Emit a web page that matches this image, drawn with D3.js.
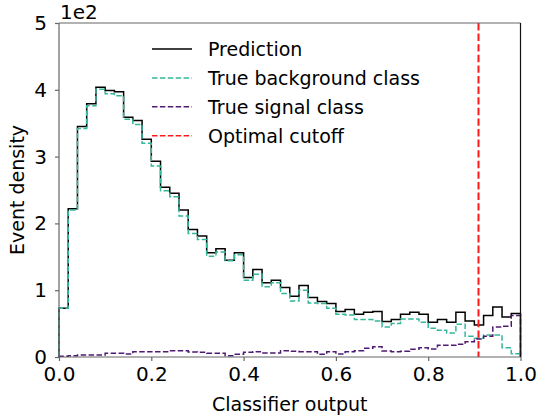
<!DOCTYPE html>
<html>
<head>
<meta charset="utf-8">
<script src="https://cdn.jsdelivr.net/npm/d3@7"></script>
<style>
  html, body { margin: 0; padding: 0; background: #fff; }
  svg { display: block; font-family: "DejaVu Sans", sans-serif; }
</style>
</head>
<body>
<svg id="chart" width="541" height="420"></svg>
<script>
// ---- data (bin counts, 50 bins of width 0.02 on [0, 1]) ----
const binStart = 0;
const binEnd = 1;
const prediction = [73, 222, 345, 379, 404, 399, 397, 359, 354, 326,
                    293, 254, 245, 220, 191, 181, 156, 162, 145, 156,
                    119, 131, 111, 115, 104, 91, 107, 89, 83, 80,
                    68, 71, 64, 67, 68, 53, 56, 64, 67, 64,
                    52, 56, 52, 67, 54, 48, 62, 75, 60, 65];
const background = [73, 220, 342, 376, 401, 394, 391, 356, 348, 320,
                    286, 249, 240, 211, 185, 176, 151, 157, 144, 153,
                    115, 124, 105, 111, 95, 84, 100, 81, 80, 73,
                    64, 63, 56, 56, 54, 45, 50, 57, 57, 52,
                    43, 40, 36, 49, 31, 28, 33, 33, 14, 5];
const signal = [1, 2, 3, 3, 3, 5.5, 5.5, 4.5, 8, 8,
                8, 8, 9.5, 9.5, 7.5, 7, 5.5, 5.5, 2, 4,
                7, 8, 6, 6, 9.5, 8.5, 8, 8, 4, 8,
                4.5, 8, 9.5, 13, 15.5, 9, 8, 8.5, 11.5, 14,
                12, 17.5, 17.5, 19, 23, 27, 31, 45, 46, 62];
const cutoff = 0.909;
const xTicks = [0, 0.2, 0.4, 0.6, 0.8, 1.0];
const yTicks = [0, 100, 200, 300, 400, 500];
const yOffsetLabel = "1e2";
const legendLabels = ["Prediction", "True background class", "True signal class", "Optimal cutoff"];

// ---- layout ----
const svg = d3.select("#chart");
const L = 59, R = 520.5, T = 23, B = 357;
const x = d3.scaleLinear().domain([0, 1]).range([L, R]);
const y = d3.scaleLinear().domain([0, 500]).range([B, T]);

const colPred = "#000000";
const colBg = "#35b79b";
const colSig = "#4e1a72";
const colCut = "#ff1a1a";

function stepPoints(vals) {
  const n = vals.length;
  const w = (binEnd - binStart) / n;
  const pts = [[binStart, 0]];
  vals.forEach((v, i) => pts.push([binStart + i * w, v]));
  pts.push([binEnd, vals[n - 1]]);
  pts.push([binEnd, 0]);
  return pts;
}
const line = d3.line().x(d => x(d[0])).y(d => y(d[1])).curve(d3.curveStepAfter);

const plot = svg.append("g");
plot.append("path").attr("d", line(stepPoints(prediction)))
  .attr("fill", "none").attr("stroke", colPred).attr("stroke-width", 1.5);
plot.append("path").attr("d", line(stepPoints(background)))
  .attr("fill", "none").attr("stroke", colBg).attr("stroke-width", 1.5)
  .attr("stroke-dasharray", "5.5,2.4");
plot.append("path").attr("d", line(stepPoints(signal)))
  .attr("fill", "none").attr("stroke", colSig).attr("stroke-width", 1.5)
  .attr("stroke-dasharray", "5.5,2.4");
plot.append("line")
  .attr("x1", x(cutoff)).attr("x2", x(cutoff))
  .attr("y1", y(500)).attr("y2", y(0))
  .attr("stroke", colCut).attr("stroke-width", 2)
  .attr("stroke-dasharray", "7.4,3.2");

// ---- spines ----
const spineCol = "#666";
svg.append("line").attr("x1", L).attr("x2", L).attr("y1", T).attr("y2", B).attr("stroke", spineCol).attr("stroke-width", 1.2);
svg.append("line").attr("x1", L).attr("x2", R).attr("y1", B).attr("y2", B).attr("stroke", spineCol).attr("stroke-width", 1.2);
svg.append("line").attr("x1", L).attr("x2", R).attr("y1", T).attr("y2", T).attr("stroke", spineCol).attr("stroke-width", 1.2);
svg.append("line").attr("x1", R).attr("x2", R).attr("y1", T).attr("y2", B).attr("stroke", "#111").attr("stroke-width", 1.2);

// ---- axes ----
const xAxis = d3.axisBottom(x).tickValues(xTicks).tickFormat(d3.format(".1f")).tickSize(4).tickPadding(6);
const gx = svg.append("g").attr("transform", `translate(0,${B})`).call(xAxis);
gx.select(".domain").remove();
gx.selectAll(".tick line").attr("stroke", spineCol).attr("stroke-width", 1.2);
gx.selectAll(".tick text").attr("font-size", 20).attr("fill", "#000")
  .attr("font-family", "DejaVu Sans");

const yAxis = d3.axisLeft(y).tickValues(yTicks).tickFormat(d => d / 100).tickSize(4).tickPadding(8);
const gy = svg.append("g").attr("transform", `translate(${L},0)`).call(yAxis);
gy.select(".domain").remove();
gy.selectAll(".tick line").attr("stroke", spineCol).attr("stroke-width", 1.2);
gy.selectAll(".tick text").attr("font-size", 20).attr("fill", "#000")
  .attr("font-family", "DejaVu Sans");

svg.append("text").attr("x", L + 1).attr("y", 19).attr("font-size", 20).text(yOffsetLabel);

svg.append("text").attr("x", (L + R) / 2).attr("y", 411).attr("text-anchor", "middle")
  .attr("font-size", 19).text("Classifier output");
svg.append("text").attr("transform", `translate(24,${(T + B) / 2}) rotate(-90)`)
  .attr("text-anchor", "middle").attr("font-size", 19).text("Event density");

// ---- legend ----
const legendStyles = [
  { color: colPred, dash: null, w: 1.5 },
  { color: colBg, dash: "5.5,2.4", w: 1.5 },
  { color: colSig, dash: "5.5,2.4", w: 1.5 },
  { color: colCut, dash: "5.5,2.4", w: 1.5 }
];
const lg = svg.append("g");
legendLabels.forEach((lab, i) => {
  const yy = 49 + i * 28.9;
  const s = legendStyles[i];
  const ln = lg.append("line").attr("x1", 152).attr("x2", 192).attr("y1", yy).attr("y2", yy)
    .attr("stroke", s.color).attr("stroke-width", s.w);
  if (s.dash) ln.attr("stroke-dasharray", s.dash);
  lg.append("text").attr("x", 208).attr("y", yy).attr("dy", "0.36em")
    .attr("font-size", 19).text(lab);
});
</script>
</body>
</html>
